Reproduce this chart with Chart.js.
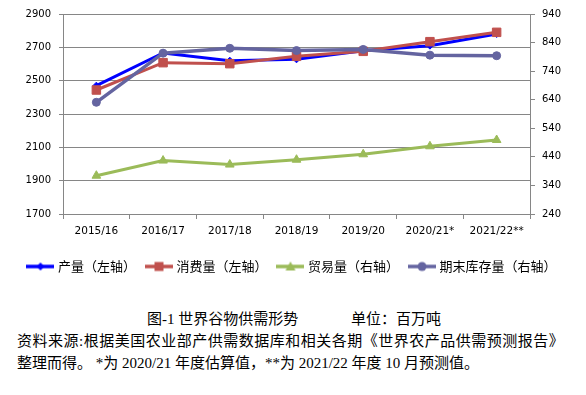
<!DOCTYPE html>
<html><head><meta charset="utf-8">
<script src="https://cdn.jsdelivr.net/npm/chart.js@4/dist/chart.umd.min.js"></script>
<style>
html,body{margin:0;padding:0;background:#fff;width:586px;height:395px;overflow:hidden;}
#wrap{position:absolute;left:0;top:0;width:586px;height:283px;}
.cap{position:absolute;font-family:"Liberation Serif","Noto Sans CJK SC";font-size:15px;color:#000;white-space:pre;line-height:20px;}
</style></head><body>
<div id="wrap"><canvas id="c"></canvas></div>
<div class="cap" style="left:147px;top:309px">图-1 世界谷物供需形势</div>
<div class="cap" style="left:351px;top:309px">单位：百万吨</div>
<div class="cap" style="left:17px;top:331px;letter-spacing:0.5px">资料来源:根据美国农业部产供需数据库和相关各期《世界农产品供需预测报告》</div>
<div class="cap" style="left:17px;top:353px">整理而得。 *为 2020/21 年度估算值，**为 2021/22 年度 10 月预测值。</div>
<script>
const categories = ['2015/16','2016/17','2017/18','2018/19','2019/20','2020/21*','2021/22**'];
const seriesNames = ['产量（左轴）','消费量（左轴）','贸易量（右轴）','期末库存量（右轴）'];
const production = [2470, 2666, 2620, 2628, 2680, 2710, 2780];
const consumption = [2444, 2608, 2602, 2646, 2676, 2734, 2790];
const trade = [374, 427, 413, 430, 449, 477, 499];
const endingStocks = [631, 803, 820, 812, 816, 796, 794];
const leftAxisRange = [1700, 2900, 200];
const rightAxisRange = [240, 940, 100];

const colors = ['#0000FF', '#C0504D', '#9BBB59', '#6464A0'];
const styles = ['rectRot', 'rect', 'triangle', 'circle'];

function legendImg(color, style) {
  const c = document.createElement('canvas');
  c.width = 28; c.height = 12;
  const g = c.getContext('2d');
  g.strokeStyle = color; g.lineWidth = 3.5;
  g.beginPath(); g.moveTo(0, 6); g.lineTo(28, 6); g.stroke();
  g.fillStyle = color;
  g.beginPath();
  const cx = 14, cy = 6;
  if (style === 'rectRot') { g.moveTo(cx, cy-4); g.lineTo(cx+4, cy); g.lineTo(cx, cy+4); g.lineTo(cx-4, cy); g.closePath(); }
  else if (style === 'rect') { g.rect(cx-4.5, cy-4.5, 9, 9); }
  else if (style === 'triangle') { g.moveTo(cx, cy-5); g.lineTo(cx+5, cy+4); g.lineTo(cx-5, cy+4); g.closePath(); }
  else { g.arc(cx, cy, 4.5, 0, Math.PI*2); }
  g.fill();
  return c;
}
const legendImgs = colors.map((c, i) => legendImg(c, styles[i]));

const gridColor = '#868686';
const tickFont = { family: 'DejaVu Sans', size: 10 };

new Chart(document.getElementById('c'), {
  type: 'line',
  data: {
    labels: categories,
    datasets: [
      { label: seriesNames[0], data: production, yAxisID: 'yL', borderColor: colors[0], backgroundColor: colors[0], borderWidth: 3, pointStyle: 'rectRot', pointRadius: 3.5, pointBorderWidth: 1, order: 4 },
      { label: seriesNames[1], data: consumption, yAxisID: 'yL', borderColor: colors[1], backgroundColor: colors[1], borderWidth: 3, pointStyle: 'rect', pointRadius: 6, pointBorderWidth: 1, order: 3 },
      { label: seriesNames[2], data: trade, yAxisID: 'yR', borderColor: colors[2], backgroundColor: colors[2], borderWidth: 3, pointStyle: 'triangle', pointRadius: 5, pointBorderWidth: 1, order: 2 },
      { label: seriesNames[3], data: endingStocks, yAxisID: 'yR', borderColor: colors[3], backgroundColor: colors[3], borderWidth: 3.5, pointStyle: 'circle', pointRadius: 4, pointBorderWidth: 1, order: 1 }
    ]
  },
  options: {
    responsive: true, maintainAspectRatio: false, animation: false, devicePixelRatio: 1,
    layout: { padding: { top: 13, left: 0, right: 0, bottom: 0 } },
    elements: { line: { tension: 0, fill: false } },
    plugins: {
      tooltip: { enabled: false },
      legend: {
        position: 'bottom', align: 'center',
        labels: {
          usePointStyle: true, pointStyleWidth: 22, padding: 12,
          font: { family: 'Noto Sans CJK SC', size: 13 }, color: '#000',
          generateLabels: chart => chart.data.datasets.map((ds, i) => ({
            text: ds.label, pointStyle: legendImgs[i], fillStyle: ds.borderColor,
            strokeStyle: ds.borderColor, lineWidth: 0, hidden: false, datasetIndex: i, fontColor: '#000'
          }))
        }
      }
    },
    scales: {
      x: {
        offset: true,
        grid: { drawOnChartArea: false, drawTicks: true, tickLength: 5, offset: true, color: gridColor },
        border: { color: gridColor },
        ticks: { font: { family: 'DejaVu Sans', size: 10.5 }, color: '#000', maxRotation: 0, autoSkip: false, padding: 6 },
        afterFit: s => { s.height = 34; }
      },
      yL: {
        position: 'left', min: leftAxisRange[0], max: leftAxisRange[1],
        grid: { drawOnChartArea: true, drawTicks: true, tickLength: 4, color: gridColor },
        border: { color: gridColor },
        ticks: { stepSize: leftAxisRange[2], font: tickFont, color: '#000', padding: 8, callback: v => String(v) },
        afterFit: s => { s.width = 63; }
      },
      yR: {
        position: 'right', min: rightAxisRange[0], max: rightAxisRange[1],
        grid: { drawOnChartArea: false, drawTicks: true, tickLength: 5, color: gridColor },
        border: { color: gridColor },
        ticks: { stepSize: rightAxisRange[2], font: tickFont, color: '#000', padding: 7, callback: v => String(v) },
        afterFit: s => { s.width = 56; }
      }
    }
  }
});
</script>
</body></html>
